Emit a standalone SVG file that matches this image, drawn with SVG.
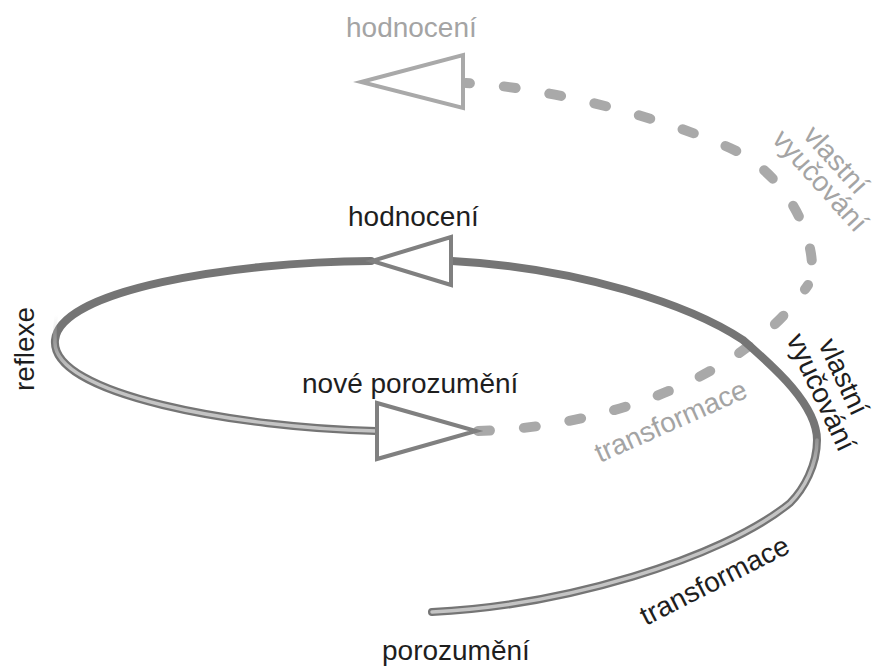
<svg xmlns="http://www.w3.org/2000/svg" width="877" height="666" viewBox="0 0 877 666">
  <style>
    .lbl { font-family: "Liberation Sans", Arial, sans-serif; font-size: 28px; }
    .dark { fill: #1e1e1e; }
    .light { fill: #a4a4a4; }
    .dash { fill: none; stroke: #a9a9a9; stroke-width: 10; stroke-linecap: round; stroke-dasharray: 12 34; }
    .solid { fill: none; stroke: #757575; stroke-width: 8; stroke-linecap: round; }
    .tri { fill: #ffffff; stroke: #808080; stroke-width: 4; stroke-linejoin: miter; }
    .tri-light { fill: #ffffff; stroke: #a9a9a9; stroke-width: 4; }
  </style>
  <defs>
    <linearGradient id="fadeBottom" gradientUnits="userSpaceOnUse" x1="0" y1="480" x2="0" y2="415">
      <stop offset="0" stop-color="#c4c4c4" stop-opacity="1"/>
      <stop offset="1" stop-color="#c4c4c4" stop-opacity="0"/>
    </linearGradient>
    <linearGradient id="fadeLeft" gradientUnits="userSpaceOnUse" x1="0" y1="370" x2="0" y2="315">
      <stop offset="0" stop-color="#c4c4c4" stop-opacity="1"/>
      <stop offset="1" stop-color="#c4c4c4" stop-opacity="0"/>
    </linearGradient>
  </defs>
  <rect width="877" height="666" fill="#ffffff"/>

  <g id="connectors">
    <path id="dashed-lower" class="dash" d="M478,431 C600,428 745,380 808,285"/>
    <path id="dashed-upper" class="dash" stroke-dashoffset="8" d="M466,83 C560,88 675,123 730,148 C800,180 822,262 808,285"/>
    <path id="solid-outer" class="solid" d="M432,612 C560,606 720,560 790,503 C804,489 817,465 817,440 C817,405 775,368 743,340 C690,305 580,268 452,261"/>
    <path id="solid-inner" class="solid" d="M371,261 C230,262 60,290 55,340 C50,395 240,428 376,431"/>
    <path fill="none" stroke="url(#fadeBottom)" stroke-width="3.5" stroke-linecap="round" d="M432,612 C560,606 720,560 790,503 C804,489 817,465 817,440"/>
    <path fill="none" stroke="url(#fadeLeft)" stroke-width="3.5" stroke-linecap="round" d="M58,310 C54,322 55,332 55,340 C50,395 240,428 376,431"/>
  </g>

  <g id="arrow-top-light">
    <polygon class="tri-light" points="463,55 463,108 361,82"/>
  </g>
  <g id="arrow-top">
    <polygon class="tri" points="451,237 451,285 372,261"/>
  </g>
  <g id="arrow-new">
    <polygon class="tri" points="377,403 377,459 476,431"/>
  </g>

  <g id="label-hodnoceni-2">
    <text class="lbl light" x="346" y="37">hodnocení</text>
  </g>
  <g id="label-hodnoceni-1">
    <text class="lbl dark" x="348" y="226">hodnocení</text>
  </g>
  <g id="label-reflexe">
    <text class="lbl dark" transform="translate(34,391) rotate(-90)">reflexe</text>
  </g>
  <g id="label-nove-porozumeni">
    <text class="lbl dark" x="302" y="393">nové porozumění</text>
  </g>
  <g id="label-porozumeni">
    <text class="lbl dark" x="382" y="660">porozumění</text>
  </g>
  <g id="label-transformace-1">
    <text class="lbl dark" transform="translate(646,626) rotate(-27)">transformace</text>
  </g>
  <g id="label-transformace-2">
    <text class="lbl light" transform="translate(600,463) rotate(-24)">transformace</text>
  </g>
  <g id="label-vyucovani-1">
    <text class="lbl dark" transform="translate(818,344) rotate(65)">vlastní</text>
    <text class="lbl dark" transform="translate(786,339) rotate(65)">vyučování</text>
  </g>
  <g id="label-vyucovani-2">
    <text class="lbl light" transform="translate(802,136) rotate(48)">vlastní</text>
    <text class="lbl light" transform="translate(771,140) rotate(48)">vyučování</text>
  </g>
</svg>
